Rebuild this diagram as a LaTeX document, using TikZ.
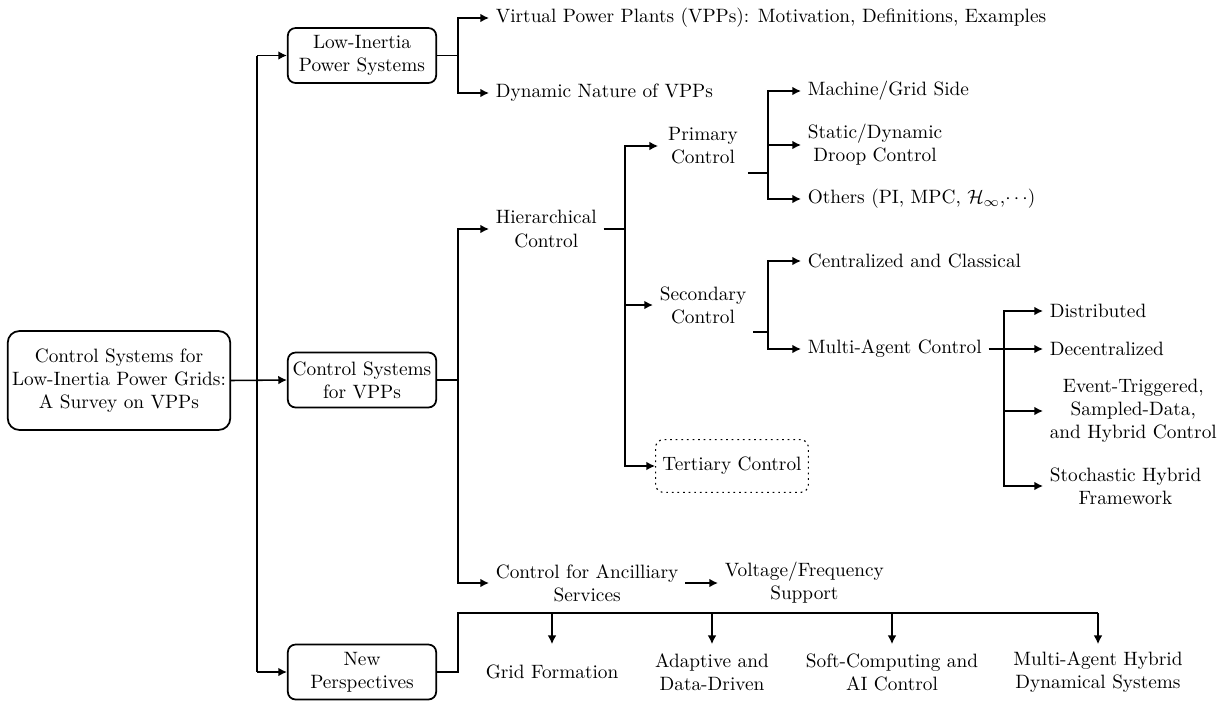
\documentclass[tikz,border=0pt]{standalone}
\usepackage{tikz}
\usetikzlibrary{arrows.meta,calc}

\begin{document}
\begin{tikzpicture}[
  x=0.182cm, y=-0.182cm,
  box/.style={draw, line width=0.9pt, rounded corners=4pt, align=center, inner sep=2pt},
  sub/.style={box, minimum width=2.7cm, minimum height=1.0cm},
  ctl/.style={align=center, minimum width=1.62cm},
  leaf/.style={align=center, anchor=west},
  bot/.style={align=center, minimum height=1.0cm},
  ln/.style={line width=0.8pt},
  arr/.style={ln, -{Latex[length=4.5pt,width=4.5pt]}}
]
\useasboundingbox (0,0) rectangle (122.5,70);

\node[box, rounded corners=6pt, minimum width=4.05cm, minimum height=1.8cm] (root) at (11.9,38.05) {Control Systems for\\Low-Inertia Power Grids:\\A Survey on VPPs};
\node[sub] (lowin) at (36.2,5.55) {Low-Inertia\\Power Systems};
\node[sub] (csvpp) at (36.2,38.0) {Control Systems\\for VPPs};
\node[sub] (newp) at (36.2,67.2) {New\\Perspectives};

\node[leaf] (vpp) at (48.9,1.8) {Virtual Power Plants (VPPs): Motivation, Definitions, Examples};
\node[leaf] (dyn) at (48.9,9.3) {Dynamic Nature of VPPs};
\node[leaf] (hier) at (48.9,22.9) {Hierarchical\\Control};
\node[leaf] (anc) at (48.9,58.3) {Control for Ancilliary\\Services};
\node[leaf] (vfs) at (71.8,58.3) {Voltage/Frequency\\Support};

\node[ctl] (prim) at (70.3,14.6) {Primary\\Control};
\node[ctl] (sec) at (70.3,30.5) {Secondary\\Control};
\node[box, dotted, line width=0.6pt, minimum width=2.78cm, minimum height=0.96cm] (ter) at (73.2,46.6) {Tertiary Control};

\node[leaf] (mgs) at (80.1,9.1) {Machine/Grid Side};
\node[leaf] (sdd) at (80.1,14.5) {Static/Dynamic\\Droop Control};
\node[leaf] (oth) at (80.1,19.9) {Others (PI, MPC, $\mathcal{H}_{\infty}$,$\cdots$)};
\node[leaf] (cc) at (80.1,26.1) {Centralized and Classical};
\node[leaf] (mac) at (80.1,34.9) {Multi-Agent Control};

\node[leaf] (dist) at (104.3,31.1) {Distributed};
\node[leaf] (dec) at (104.3,34.9) {Decentralized};
\node[leaf] (evt) at (104.3,41.1) {Event-Triggered,\\Sampled-Data,\\and Hybrid Control};
\node[leaf] (stoch) at (104.3,48.6) {Stochastic Hybrid\\Framework};

\node[bot] (gf) at (55.2,67.2) {Grid Formation};
\node[bot] (add) at (71.2,67.2) {Adaptive and\\Data-Driven};
\node[bot] (sc) at (89.2,67.2) {Soft-Computing and\\AI Control};
\node[bot] (mah) at (109.8,67.2) {Multi-Agent Hybrid\\Dynamical Systems};

\coordinate (trT) at (25.7,5.55);
\coordinate (trB) at (25.7,67.2);
\coordinate (j1) at (45.8,5.55);
\coordinate (j2) at (45.8,38.0);
\coordinate (j3) at (62.5,22.9);
\coordinate (j4) at (76.8,17.3);
\coordinate (j5) at (76.8,33.2);
\coordinate (j6) at (100.4,34.9);
\coordinate (j7) at (45.8,61.3);

\draw[ln] (trT) -- (trB);
\draw[arr] (trT) -- (lowin.west);
\draw[arr] (root.east) -- (csvpp.west);
\draw[arr] (trB) -- (newp.west);

\draw[ln] (lowin.east) -- (j1);
\draw[arr] (j1) |- (vpp.west);
\draw[arr] (j1) |- (dyn.west);

\draw[ln] (csvpp.east) -- (j2);
\draw[arr] (j2) |- (hier.west);
\draw[arr] (j2) |- (anc.west);
\draw[arr] (anc.east) -- (vfs.west);

\draw[ln] (hier.east) -- (j3);
\draw[arr] (j3) |- (prim.west);
\draw[arr] (j3) |- (sec.west);
\draw[arr] (j3) |- (ter.west);

\draw[ln] (j4 -| prim.east) -- (j4);
\draw[arr] (j4) |- (mgs.west);
\draw[arr] (j4) |- (sdd.west);
\draw[arr] (j4) |- (oth.west);

\draw[ln] (j5 -| sec.east) -- (j5);
\draw[arr] (j5) |- (cc.west);
\draw[arr] (j5) |- (mac.west);

\draw[ln] (mac.east) -- (j6);
\foreach \n in {dist,dec,evt,stoch}
  \draw[arr] (j6) |- (\n.west);

\draw[ln] (newp.east) -- (newp.east -| j7) -- (j7) -- (mah.north |- j7);
\foreach \n in {gf,add,sc,mah}
  \draw[arr] (\n.north |- j7) -- (\n.north);
\end{tikzpicture}
\end{document}
